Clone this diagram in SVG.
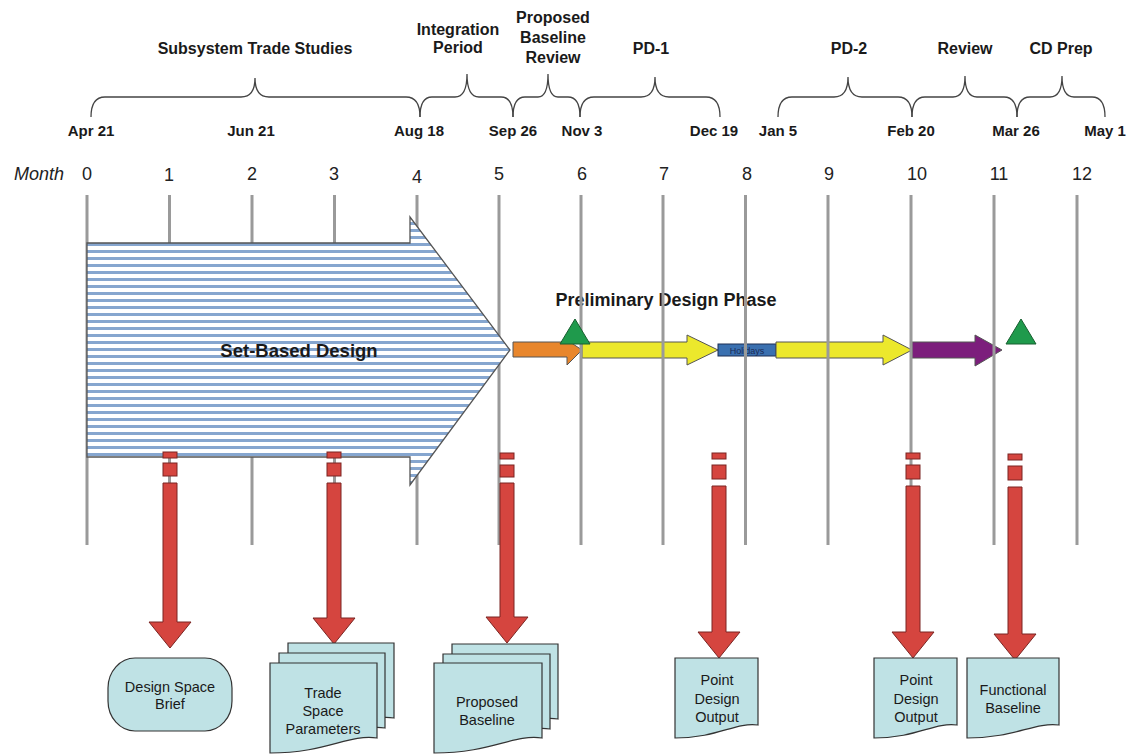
<svg xmlns="http://www.w3.org/2000/svg" width="1130" height="756" viewBox="0 0 1130 756">
<style>
.lbl{font-family:"Liberation Sans",Arial,sans-serif;font-weight:bold;font-size:16px;fill:#1a1a1a;text-anchor:middle}
.date{font-family:"Liberation Sans",Arial,sans-serif;font-weight:bold;font-size:15px;fill:#1a1a1a;text-anchor:middle}
.num{font-family:"Liberation Sans",Arial,sans-serif;font-size:18px;fill:#222;text-anchor:middle}
.doc{font-family:"Liberation Sans",Arial,sans-serif;font-size:14.5px;fill:#1a1a1a;text-anchor:middle}
.brace{fill:none;stroke:#444;stroke-width:1.3}
.grid{stroke:#9a9a9a;stroke-width:3}
.red{fill:#d5453f;stroke:#7a2522;stroke-width:1}
.paper{fill:#bfe2e5;stroke:#333;stroke-width:1.2}
.sm{stroke:#555;stroke-width:1}
</style>
<defs>
<pattern id="stripes" patternUnits="userSpaceOnUse" x="0" y="243" width="20" height="7">
<rect width="20" height="7" fill="#ffffff"/>
<rect y="0" width="20" height="3" fill="#86a6cf"/>
</pattern>
</defs>

<g id="header-labels">
<text class="lbl" x="255" y="54">Subsystem Trade Studies</text>
<text class="lbl" x="458" y="35">Integration</text>
<text class="lbl" x="458" y="53">Period</text>
<text class="lbl" x="553" y="23">Proposed</text>
<text class="lbl" x="553" y="43">Baseline</text>
<text class="lbl" x="553" y="63">Review</text>
<text class="lbl" x="651" y="54">PD-1</text>
<text class="lbl" x="849" y="54">PD-2</text>
<text class="lbl" x="965" y="54">Review</text>
<text class="lbl" x="1061" y="54">CD Prep</text>
</g>

<g id="braces">
<path class="brace" d="M91,117 Q91,97 105,97 L241,97 Q255,97 255,78 Q255,97 269,97 L406,97 Q420,97 420,117"/>
<path class="brace" d="M420,117 Q420,97 432,97 L455,97 Q467,97 467,74 Q467,97 479,97 L501,97 Q513,97 513,117"/>
<path class="brace" d="M513,117 Q513,97 525,97 L538,97 Q548,97 548,74 Q548,97 558,97 L568,97 Q580,97 580,117"/>
<path class="brace" d="M580,117 Q580,97 594,97 L641,97 Q655,97 655,77 Q655,97 669,97 L706,97 Q720,97 720,117"/>
<path class="brace" d="M778,117 Q778,97 792,97 L834,97 Q848,97 848,77 Q848,97 862,97 L898,97 Q912,97 912,117"/>
<path class="brace" d="M912,117 Q912,97 925,97 L953,97 Q965,97 965,76 Q965,97 977,97 L1004,97 Q1017,97 1017,117"/>
<path class="brace" d="M1017,117 Q1017,97 1030,97 L1050,97 Q1062,97 1062,76 Q1062,97 1074,97 L1092,97 Q1105,97 1105,117"/>
</g>

<g id="dates">
<text class="date" x="91" y="136">Apr 21</text>
<text class="date" x="251" y="136">Jun 21</text>
<text class="date" x="419" y="136">Aug 18</text>
<text class="date" x="513" y="136">Sep 26</text>
<text class="date" x="582" y="136">Nov 3</text>
<text class="date" x="714" y="136">Dec 19</text>
<text class="date" x="778" y="136">Jan 5</text>
<text class="date" x="911" y="136">Feb 20</text>
<text class="date" x="1016" y="136">Mar 26</text>
<text class="date" x="1105" y="136">May 1</text>
</g>

<g id="months">
<text x="14" y="180" style="font-family:'Liberation Sans',Arial,sans-serif;font-style:italic;font-size:18px;fill:#222">Month</text>
<text class="num" x="87" y="180">0</text>
<text class="num" x="169" y="181">1</text>
<text class="num" x="252" y="180">2</text>
<text class="num" x="334" y="180">3</text>
<text class="num" x="417" y="183">4</text>
<text class="num" x="499" y="180">5</text>
<text class="num" x="582" y="180">6</text>
<text class="num" x="664" y="180">7</text>
<text class="num" x="747" y="180">8</text>
<text class="num" x="829" y="180">9</text>
<text class="num" x="917" y="180">10</text>
<text class="num" x="999" y="180">11</text>
<text class="num" x="1082" y="180">12</text>
</g>

<g id="preliminary-design-phase">
<text class="lbl" x="666" y="306" style="font-size:18px">Preliminary Design Phase</text>
<polygon points="513,342 567,342 567,340 582,350 567,365 567,357 513,357" fill="#e8862c" class="sm"/>
<polygon points="582,342 687,342 687,335 718,350 687,365 687,358 582,358" fill="#ece82c" class="sm"/>
<rect x="718" y="344" width="58" height="12" fill="#3a70b0" stroke="#1d2f55" stroke-width="1"/>
<text x="747" y="353.5" style="font-family:'Liberation Sans',Arial,sans-serif;font-size:9px;fill:#1a2a55;text-anchor:middle">Holidays</text>
<polygon points="776,342 883,342 883,335 912,350 883,365 883,358 776,358" fill="#ece82c" class="sm"/>
<polygon points="912,342 975,342 975,335 1002,350 975,366 975,358 912,358" fill="#7c1e7c" class="sm"/>
</g>

<g id="grid">
<line class="grid" x1="87" y1="195" x2="87" y2="545"/>
<line class="grid" x1="169.5" y1="195" x2="169.5" y2="545"/>
<line class="grid" x1="252" y1="195" x2="252" y2="545"/>
<line class="grid" x1="334.5" y1="195" x2="334.5" y2="545"/>
<line class="grid" x1="417" y1="195" x2="417" y2="545"/>
<line class="grid" x1="499" y1="195" x2="499" y2="545"/>
<line class="grid" x1="581" y1="195" x2="581" y2="545"/>
<line class="grid" x1="663" y1="195" x2="663" y2="545"/>
<line class="grid" x1="745.5" y1="195" x2="745.5" y2="545"/>
<line class="grid" x1="828" y1="195" x2="828" y2="545"/>
<line class="grid" x1="911" y1="195" x2="911" y2="545"/>
<line class="grid" x1="994" y1="195" x2="994" y2="545"/>
<line class="grid" x1="1077" y1="195" x2="1077" y2="545"/>
</g>

<g id="milestones">
<polygon points="575,319 590,344 560,344" fill="#1f9a4c" stroke="#185f30" stroke-width="1"/>
<polygon points="1021,319 1036,344 1006,344" fill="#1f9a4c" stroke="#185f30" stroke-width="1"/>
</g>

<g id="set-based-design">
<polygon points="87,243 410,243 410,217 510,350 410,485 410,457 87,457" fill="url(#stripes)" stroke="#555" stroke-width="1.3"/>
<text class="lbl" x="299" y="357" style="font-size:18.5px">Set-Based Design</text>
</g>

<g id="connectors">
<g>
<rect class="red" x="163" y="452" width="14" height="6"/>
<rect class="red" x="163" y="463" width="14" height="13"/>
<polygon class="red" points="163,483 177,483 177,622 191,622 170,648 149,622 163,622"/>
</g>
<g>
<rect class="red" x="327" y="452" width="14" height="6"/>
<rect class="red" x="327" y="463" width="14" height="13"/>
<polygon class="red" points="327,483 341,483 341,618 355,618 334,644 313,618 327,618"/>
</g>
<g>
<rect class="red" x="500" y="453" width="14" height="6"/>
<rect class="red" x="500" y="465" width="14" height="12"/>
<polygon class="red" points="500,483 514,483 514,617 528,617 507,643 486,617 500,617"/>
</g>
<g>
<rect class="red" x="712" y="453" width="14" height="6"/>
<rect class="red" x="712" y="465" width="14" height="14"/>
<polygon class="red" points="712,486 726,486 726,632 740,632 719,658 698,632 712,632"/>
</g>
<g>
<rect class="red" x="906" y="453" width="14" height="6"/>
<rect class="red" x="906" y="465" width="14" height="14"/>
<polygon class="red" points="906,486 920,486 920,632 934,632 913,658 892,632 906,632"/>
</g>
<g>
<rect class="red" x="1008" y="454" width="14" height="6"/>
<rect class="red" x="1008" y="466" width="14" height="14"/>
<polygon class="red" points="1008,487 1022,487 1022,634 1036,634 1015,660 994,634 1008,634"/>
</g>
</g>

<g id="design-space-brief">
<rect class="paper" x="108" y="658" width="124" height="73" rx="27" ry="30"/>
<text class="doc" x="170" y="692">Design Space</text>
<text class="doc" x="170" y="709">Brief</text>
</g>

<g id="trade-space-parameters">
<path class="paper" d="M288,643 H394 V718 C365,714 345,733 288,733 Z"/>
<path class="paper" d="M279,653 H385 V728 C356,724 336,743 279,743 Z"/>
<path class="paper" d="M270,663 H377 V738 C348,734 327,753 270,753 Z"/>
<text class="doc" x="323" y="698">Trade</text>
<text class="doc" x="323" y="716">Space</text>
<text class="doc" x="323" y="734">Parameters</text>
</g>

<g id="proposed-baseline">
<path class="paper" d="M452,644 H558 V719 C529,715 509,734 452,734 Z"/>
<path class="paper" d="M443,654 H550 V729 C521,725 500,744 443,744 Z"/>
<path class="paper" d="M434,663 H542 V738 C513,734 492,753 434,753 Z"/>
<text class="doc" x="487" y="707">Proposed</text>
<text class="doc" x="487" y="725">Baseline</text>
</g>

<g id="point-design-output-1">
<path class="paper" d="M675,658 H758 V725 C735,722 718,738 675,738 Z"/>
<text class="doc" x="717" y="685">Point</text>
<text class="doc" x="717" y="704">Design</text>
<text class="doc" x="717" y="722">Output</text>
</g>

<g id="point-design-output-2">
<path class="paper" d="M874,658 H957 V725 C934,722 917,738 874,738 Z"/>
<text class="doc" x="916" y="685">Point</text>
<text class="doc" x="916" y="704">Design</text>
<text class="doc" x="916" y="722">Output</text>
</g>

<g id="functional-baseline">
<path class="paper" d="M967,658 H1059 V725 C1034,722 1015,738 967,738 Z"/>
<text class="doc" x="1013" y="695">Functional</text>
<text class="doc" x="1013" y="713">Baseline</text>
</g>
</svg>
